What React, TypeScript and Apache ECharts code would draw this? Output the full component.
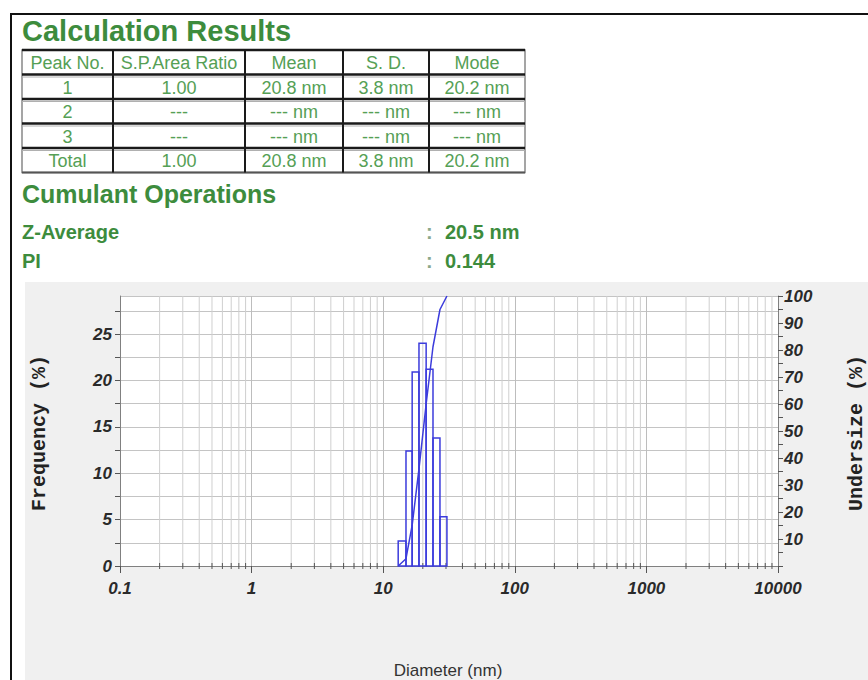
import React, { useEffect, useRef } from "react";
import * as echarts from "echarts";

// ---- data ----
const binEdges = [13.0, 14.9, 16.6, 18.7, 21.2, 23.9, 27.0, 30.5]; // nm
const frequency = [2.7, 12.4, 20.9, 24.0, 21.2, 13.8, 5.3]; // %
const undersize = [0, 2.7, 15.1, 36.0, 60.0, 81.2, 95.0, 100]; // % at bin edges
const xTickLabels = ["0.1", "1", "10", "100", "1000", "10000"];
const decades = [0.1, 1, 10, 100, 1000];
const minorMultipliers = [2, 3, 4, 5, 6, 7, 8, 9];
const freqMax = 29.1;
const undersizeMax = 100;

const tableHeaders = ["Peak No.", "S.P.Area Ratio", "Mean", "S. D.", "Mode"];
const tableRows = [
  ["1", "1.00", "20.8 nm", "3.8 nm", "20.2 nm"],
  ["2", "---", "--- nm", "--- nm", "--- nm"],
  ["3", "---", "--- nm", "--- nm", "--- nm"],
  ["Total", "1.00", "20.8 nm", "3.8 nm", "20.2 nm"],
];
const zAverage = "20.5 nm";
const polyIndex = "0.144";

const GREEN = "#3d8c3d";
const TABLE_GREEN = "#55a055";
const BLUE = "#3c3cdc";

function buildGraphics() {
  const els: any[] = [];
  // page frame
  els.push({ type: "line", shape: { x1: 10, y1: 14, x2: 868, y2: 14 }, style: { stroke: "#111", lineWidth: 2 } });
  els.push({ type: "line", shape: { x1: 11, y1: 14, x2: 11, y2: 680 }, style: { stroke: "#111", lineWidth: 2 } });
  // chart panel background
  els.push({ type: "rect", z: -10, shape: { x: 25, y: 282, width: 843, height: 398 }, style: { fill: "#f0f0f0" } });

  // title
  els.push({
    type: "text", x: 22, y: 31,
    style: { text: "Calculation Results", fill: GREEN, font: "bold 29px 'Liberation Sans', Arial, sans-serif", textVerticalAlign: "middle" },
  });

  // table
  const colX = [22, 113, 245, 343, 429, 525];
  const rowY = [50, 74.5, 99, 123.5, 148, 172.5];
  els.push({ type: "rect", shape: { x: colX[0], y: rowY[0], width: colX[5] - colX[0], height: rowY[5] - rowY[0] }, style: { fill: "#fff", stroke: "#888", lineWidth: 1.5 } });
  for (let r = 0; r < rowY.length - 1; r++) {
    const y = rowY[r];
    els.push({ type: "line", shape: { x1: colX[0], y1: y, x2: colX[5], y2: y }, style: { stroke: "#1a1a1a", lineWidth: 2.5 } });
    if (r > 0) els.push({ type: "line", shape: { x1: colX[0], y1: y + 2.5, x2: colX[5], y2: y + 2.5 }, style: { stroke: "#b0b0b0", lineWidth: 1 } });
  }
  els.push({ type: "line", shape: { x1: colX[0], y1: rowY[5], x2: colX[5], y2: rowY[5] }, style: { stroke: "#555", lineWidth: 2 } });
  for (let c = 1; c < colX.length - 1; c++) {
    els.push({ type: "line", shape: { x1: colX[c], y1: rowY[0], x2: colX[c], y2: rowY[5] }, style: { stroke: "#1a1a1a", lineWidth: 2 } });
  }
  const allRows = [tableHeaders, ...tableRows];
  allRows.forEach((row, r) => {
    row.forEach((cell, c) => {
      els.push({
        type: "text",
        x: (colX[c] + colX[c + 1]) / 2,
        y: (rowY[r] + rowY[r + 1]) / 2 + 1,
        style: { text: cell, fill: TABLE_GREEN, font: "18px 'Liberation Sans', Arial, sans-serif", textAlign: "center", textVerticalAlign: "middle" },
      });
    });
  });

  // cumulant operations
  els.push({
    type: "text", x: 22, y: 194,
    style: { text: "Cumulant Operations", fill: GREEN, font: "bold 25px 'Liberation Sans', Arial, sans-serif", textVerticalAlign: "middle" },
  });
  const infoFont = "bold 20px 'Liberation Sans', Arial, sans-serif";
  els.push({ type: "text", x: 22, y: 232, style: { text: "Z-Average", fill: GREEN, font: infoFont, textVerticalAlign: "middle" } });
  els.push({ type: "text", x: 22, y: 261, style: { text: "PI", fill: GREEN, font: infoFont, textVerticalAlign: "middle" } });
  els.push({ type: "text", x: 426, y: 232, style: { text: ":", fill: "#8aa88a", font: infoFont, textVerticalAlign: "middle" } });
  els.push({ type: "text", x: 426, y: 261, style: { text: ":", fill: "#8aa88a", font: infoFont, textVerticalAlign: "middle" } });
  els.push({ type: "text", x: 445, y: 232, style: { text: zAverage, fill: GREEN, font: infoFont, textVerticalAlign: "middle" } });
  els.push({ type: "text", x: 445, y: 261, style: { text: polyIndex, fill: GREEN, font: infoFont, textVerticalAlign: "middle" } });

  // axis names
  const nameFont = "bold 20px 'Liberation Mono', 'DejaVu Sans Mono', monospace";
  els.push({ type: "text", x: 39, y: 433, rotation: Math.PI / 2, style: { text: "Frequency (%)", fill: "#222", font: nameFont, textAlign: "center", textVerticalAlign: "middle" } });
  els.push({ type: "text", x: 856, y: 433, rotation: Math.PI / 2, style: { text: "Undersize (%)", fill: "#222", font: nameFont, textAlign: "center", textVerticalAlign: "middle" } });
  els.push({ type: "text", x: 448, y: 670, style: { text: "Diameter (nm)", fill: "#333", font: "17px 'Liberation Sans', Arial, sans-serif", textAlign: "center", textVerticalAlign: "middle" } });
  return els;
}

export default function App() {
  const ref = useRef<HTMLDivElement>(null);
  useEffect(() => {
    if (!ref.current) return;
    const chart = echarts.init(ref.current, undefined, { renderer: "svg" });

    const minorX: number[][] = [];
    decades.forEach((d) => minorMultipliers.forEach((m) => minorX.push([d * m, 0])));

    const labelStyle = { fontStyle: "italic", fontWeight: "bold", fontSize: 17, color: "#2a2a2a", fontFamily: "'Liberation Sans', Arial, sans-serif" };

    chart.setOption({
      animation: false,
      backgroundColor: "#fff",
      textStyle: { fontFamily: "'Liberation Sans', Arial, sans-serif" },
      grid: { show: true, backgroundColor: "#fff", borderWidth: 0, left: 120, right: 90, top: 296, bottom: 114 },
      xAxis: {
        type: "log",
        logBase: 10,
        min: 0.1,
        max: 10000,
        axisLine: { show: true, lineStyle: { color: "#808080", width: 1 } },
        axisTick: { show: true, length: 7, lineStyle: { color: "#555" } },
        axisLabel: {
          ...labelStyle,
          margin: 14,
          formatter: (v: number) => xTickLabels[Math.round(Math.log10(v)) + 1] ?? "",
        },
        splitLine: { show: true, lineStyle: { color: "#bdbdbd", width: 1 } },
      },
      yAxis: [
        {
          type: "value",
          min: 0,
          max: freqMax,
          interval: 2.5,
          position: "left",
          axisLine: { show: true, lineStyle: { color: "#808080" } },
          axisTick: { show: true, length: 5, lineStyle: { color: "#555" } },
          axisLabel: {
            ...labelStyle,
            margin: 8,
            showMaxLabel: false,
            formatter: (v: number) => (Math.abs(v % 5) < 1e-6 ? String(v) : ""),
          },
          splitLine: { show: true, lineStyle: { color: "#c4c4c4", width: 1 } },
        },
        {
          type: "value",
          min: 0,
          max: undersizeMax,
          interval: 5,
          position: "right",
          axisLine: { show: true, lineStyle: { color: "#808080" } },
          axisTick: { show: true, length: 5, lineStyle: { color: "#555" } },
          axisLabel: {
            ...labelStyle,
            margin: 6,
            formatter: (v: number) => (v > 0 && v % 10 === 0 ? String(v) : ""),
          },
          splitLine: { show: false },
        },
      ],
      graphic: { elements: buildGraphics() },
      series: [
        {
          type: "custom",
          name: "minorGrid",
          silent: true,
          z: 1,
          data: minorX,
          encode: { x: 0, y: 1 },
          renderItem: (params: any, api: any) => {
            const x = api.value(0);
            const top = api.coord([x, freqMax]);
            const bot = api.coord([x, 0]);
            return {
              type: "group",
              children: [
                { type: "line", shape: { x1: top[0], y1: top[1], x2: bot[0], y2: bot[1] }, style: { stroke: "#cfcfcf", lineWidth: 1 } },
                { type: "line", shape: { x1: bot[0], y1: bot[1] - 3, x2: bot[0], y2: bot[1] + 3 }, style: { stroke: "#555", lineWidth: 1 } },
              ],
            };
          },
        },
        {
          type: "custom",
          name: "Frequency",
          z: 3,
          data: frequency.map((f, i) => [binEdges[i], binEdges[i + 1], f]),
          encode: { x: [0, 1], y: 2 },
          renderItem: (params: any, api: any) => {
            const p0 = api.coord([api.value(0), 0]);
            const p1 = api.coord([api.value(1), api.value(2)]);
            return {
              type: "rect",
              shape: { x: p0[0], y: p1[1], width: p1[0] - p0[0], height: p0[1] - p1[1] },
              style: { fill: "none", stroke: BLUE, lineWidth: 1.5 },
            };
          },
        },
        {
          type: "line",
          name: "Undersize",
          yAxisIndex: 1,
          z: 4,
          symbol: "none",
          data: binEdges.map((x, i) => [x, undersize[i]]),
          lineStyle: { color: BLUE, width: 1.5 },
        },
      ],
    });
    return () => chart.dispose();
  }, []);
  return <div ref={ref} style={{ position: "absolute", left: 0, top: 0, width: 868, height: 680 }} />;
}
